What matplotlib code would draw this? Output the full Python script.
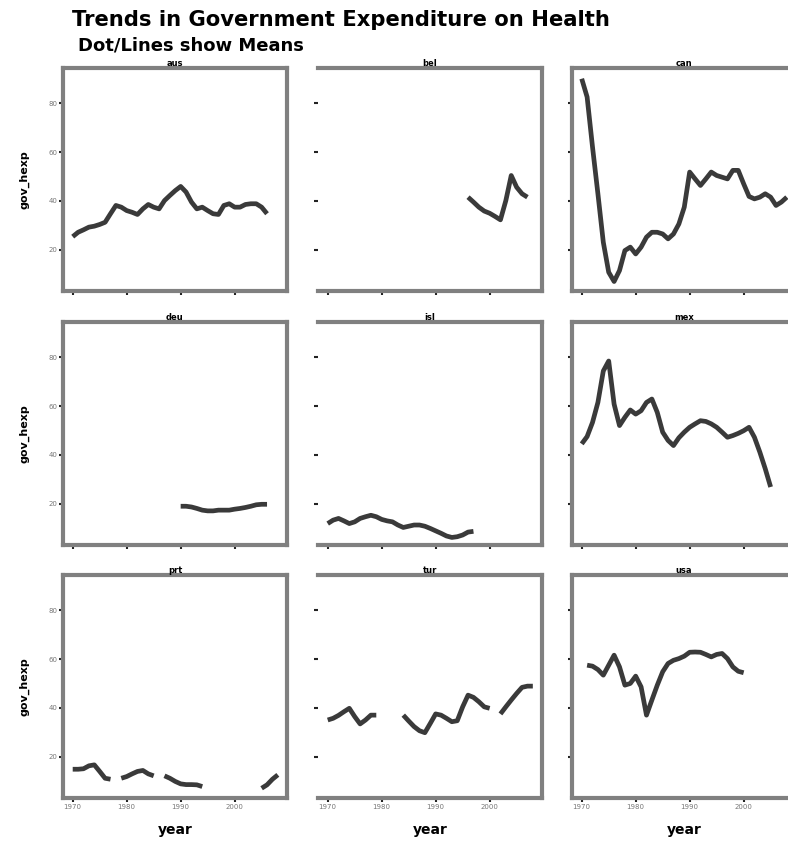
import numpy as np
import matplotlib
matplotlib.use("Agg")
import matplotlib.pyplot as plt

nan = np.nan

countries = ["aus", "bel", "can", "deu", "isl", "mex", "prt", "tur", "usa"]

# panel 1
yr_1 = list(range(1970, 2007))
val_1 = [25.3, 27.1, 28.1, 29.2, 29.6, 30.3, 31.2, 34.7, 38.1, 37.4, 36.0, 35.3, 34.4,
         36.7, 38.5, 37.4, 36.7, 40.1, 42.2, 44.2, 45.9, 43.6, 39.5, 36.7, 37.4, 36.0,
         34.7, 34.4, 38.1, 38.8, 37.4, 37.4, 38.5, 38.8, 38.8, 37.4, 34.7]
# panel 2
yr_2 = list(range(1996, 2008))
val_2 = [41.5, 39.5, 37.4, 35.8, 34.9, 33.6, 32.2, 40.1, 50.4, 45.6, 42.9, 41.5]
# panel 3
yr_3 = list(range(1970, 2009))
val_3 = [90.1, 82.6, 62.1, 42.9, 23.0, 10.7, 6.9, 11.4, 19.6, 21.0, 18.2, 21.0, 25.1,
         27.1, 27.1, 26.4, 24.4, 26.4, 30.5, 37.4, 51.8, 49.0, 46.3, 49.0, 51.8, 50.4,
         49.7, 49.0, 52.5, 52.5, 47.0, 41.8, 40.8, 41.5, 42.9, 41.5, 38.1, 39.5, 41.5]
# panel 4
yr_4 = list(range(1990, 2007))
val_4 = [18.9, 18.9, 18.6, 18.0, 17.3, 17.0, 17.0, 17.3, 17.3, 17.3, 17.7, 18.0, 18.4,
         18.9, 19.5, 19.7, 19.7]
# panel 5
yr_5 = list(range(1970, 1998))
val_5 = [11.8, 13.2, 13.9, 12.9, 11.8, 12.5, 13.9, 14.6, 15.2, 14.6, 13.5, 12.9, 12.5,
         11.2, 10.2, 10.7, 11.2, 11.2, 10.7, 9.8, 8.8, 7.8, 6.7, 6.1, 6.4, 7.1, 8.3, 8.6]
# panel 6
yr_6 = list(range(1970, 2006))
val_6 = [44.5, 47.5, 53.3, 61.5, 74.4, 78.5, 60.8, 52.0, 55.4, 58.4, 56.7, 58.1, 61.5,
         62.9, 57.4, 49.3, 45.9, 43.8, 47.0, 49.3, 51.3, 52.7, 54.0, 53.7, 52.7, 51.3,
         49.3, 47.2, 47.9, 48.8, 49.9, 51.3, 47.2, 41.1, 34.3, 26.8]
# panel 7
yr_7 = list(range(1970, 2009))
val_7 = [14.8, 14.8, 15.0, 16.2, 16.6, 13.9, 11.1, 10.7, nan, 11.1, 11.8, 12.9, 13.9,
         14.3, 12.9, 12.1, nan, 12.1, 11.1, 9.8, 8.8, 8.5, 8.5, 8.4, 7.7, nan, nan,
         nan, nan, nan, nan, nan, nan, nan, nan, 7.0, 8.4, 10.7, 12.5]
# panel 8
yr_8 = list(range(1970, 2009))
val_8 = [35.0, 35.7, 36.9, 38.4, 39.8, 36.4, 33.4, 35.0, 37.0, 37.0, nan, nan, nan,
         nan, 37.0, 34.6, 32.3, 30.6, 29.8, 33.6, 37.5, 37.0, 35.7, 34.3, 34.7, 40.4,
         45.2, 44.3, 42.5, 40.4, 39.8, nan, 37.5, 40.4, 43.2, 45.9, 48.4, 48.9, 48.9]
# panel 9
yr_9 = list(range(1971, 2001))
val_9 = [57.5, 57.1, 55.7, 53.4, 57.5, 61.6, 56.8, 49.3, 50.0, 53.0, 48.6, 37.0, 43.2,
         49.3, 54.8, 58.2, 59.5, 60.2, 61.2, 62.8, 62.9, 62.8, 61.9, 60.9, 61.9, 62.3,
         60.2, 56.8, 55.0, 54.4]

series = [(yr_1, val_1), (yr_2, val_2), (yr_3, val_3), (yr_4, val_4), (yr_5, val_5),
          (yr_6, val_6), (yr_7, val_7), (yr_8, val_8), (yr_9, val_9)]

x_ticks = [1970, 1980, 1990, 2000]
y_ticks = [20, 40, 60, 80]

W, H = 788, 848
fig = plt.figure(figsize=(W / 100, H / 100), dpi=100)

lefts = [63, 318, 572]
tops = [68, 322, 575]
aw, ah = 224, 223
spine_c = "#808080"

for i, (yrs, vals) in enumerate(series):
    r, c = divmod(i, 3)
    ax = fig.add_axes([lefts[c] / W, 1 - (tops[r] + ah) / H, aw / W, ah / H])
    ax.plot(yrs, vals, color="#3a3a3a", lw=3.4, solid_capstyle="butt")
    ax.set_xlim(1968.2, 2009.7)
    ax.set_ylim(3, 94.5)
    ax.set_xticks(x_ticks)
    ax.set_yticks(y_ticks)
    for s in ax.spines.values():
        s.set_color(spine_c)
        s.set_linewidth(3)
    if c == 1:
        ax.spines["left"].set_visible(False)
    ax.tick_params(axis="both", direction="out", length=3, width=1.5, color="#222222",
                   labelsize=5, labelcolor="#777777", pad=1)
    if c != 0:
        ax.set_yticklabels([])
    else:
        ax.set_ylabel("gov_hexp", fontsize=8, fontweight="bold", labelpad=14)
    if r != 2:
        ax.set_xticklabels([])
    else:
        ax.set_xlabel("year", fontsize=10, fontweight="bold", labelpad=10)
    ax.set_title(countries[i], fontsize=6, fontweight="bold", pad=1)

fig.text(72 / W, 1 - 20 / H, "Trends in Government Expenditure on Health",
         fontsize=15.2, fontweight="heavy", va="center", ha="left")
fig.text(78 / W, 1 - 46 / H, "Dot/Lines show Means",
         fontsize=13, fontweight="heavy", va="center", ha="left")

fig.savefig("out.png", dpi=100)
